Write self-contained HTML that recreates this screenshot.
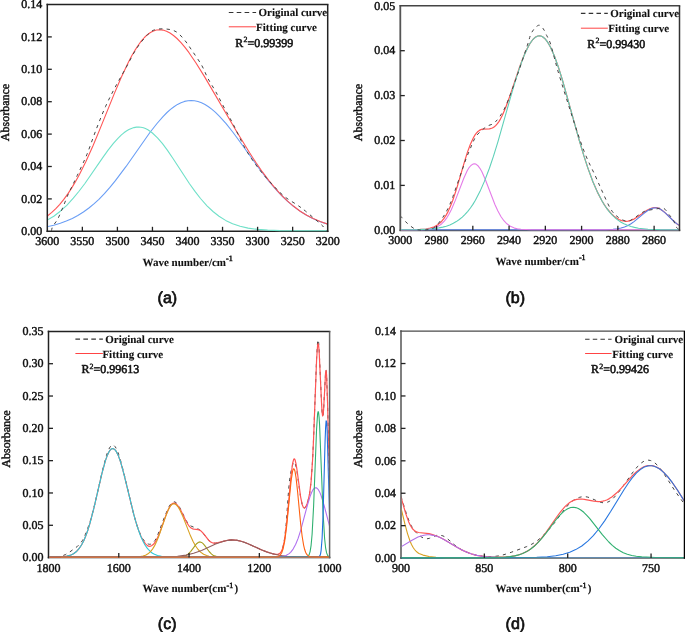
<!DOCTYPE html>
<html><head><meta charset="utf-8"><title>FTIR peak fitting</title><style>
html,body{margin:0;padding:0;background:#fff;}
body{width:685px;height:632px;overflow:hidden;font-family:"Liberation Serif",serif;}
svg{display:block;will-change:transform;text-rendering:geometricPrecision;}
text{fill:#111;}
.s{font-family:"Liberation Serif",serif;}
.sb{font-family:"Liberation Serif",serif;font-weight:bold;}
.a{font-family:"Liberation Sans",sans-serif;}
.ab{font-family:"Liberation Sans",sans-serif;font-weight:bold;}
</style></head><body>
<svg width="685" height="632" viewBox="0 0 685 632">

<rect width="685" height="632" fill="#fff"/>
<line x1="47.3" y1="3.75" x2="47.3" y2="232.05" stroke="#222" stroke-width="1.5"/>
<line x1="46.55" y1="231.3" x2="328.45" y2="231.3" stroke="#222" stroke-width="1.5"/>
<clipPath id="ca"><rect x="48.00" y="5.00" width="279.00" height="227.10"/></clipPath>
<g clip-path="url(#ca)">
<path d="M47.3,226.7 53.8,225.2 60.3,223.3 66.3,221.1 72.3,218.4 77.8,215.5 83.4,212.0 88.9,208.0 93.9,203.9 98.9,199.3 104.4,193.7 109.9,187.4 115.4,180.7 125.9,166.7 149.9,132.5 157.0,123.5 163.0,116.6 167.0,112.5 170.5,109.4 174.0,106.7 177.5,104.4 181.0,102.7 184.5,101.4 188.0,100.7 191.0,100.5 194.5,100.8 198.0,101.5 201.5,102.8 205.0,104.5 208.5,106.7 212.0,109.4 215.5,112.4 219.5,116.3 226.1,123.6 233.1,132.5 240.1,142.0 257.6,166.4 267.6,179.6 272.6,185.6 277.6,191.3 282.6,196.5 287.6,201.3 292.1,205.2 297.2,209.1 301.7,212.2 306.7,215.3 311.7,217.9 316.7,220.2 322.2,222.4 327.7,224.1" fill="none" stroke="#6a9ef5" stroke-width="1.1" stroke-linejoin="round"/>
<path d="M47.3,216.0 51.8,212.4 55.8,208.6 59.8,204.3 63.8,199.4 67.8,193.9 71.3,188.6 75.3,181.9 79.3,174.7 85.9,161.6 92.9,146.0 99.4,130.4 114.4,93.4 121.4,77.0 128.4,62.2 131.9,55.6 134.9,50.4 138.4,45.0 141.4,40.9 144.4,37.5 147.4,34.7 150.4,32.5 153.5,31.0 156.5,30.0 160.0,29.7 163.0,30.1 166.5,31.2 170.0,33.0 173.5,35.5 177.0,38.5 181.0,42.7 185.0,47.4 189.0,52.7 196.0,63.0 204.5,76.6 236.6,131.5 249.6,152.8 256.1,162.8 262.6,172.2 269.1,180.8 275.1,188.1 281.6,195.3 287.6,201.2 293.7,206.3 300.2,211.2 306.7,215.3 313.2,218.6 320.2,221.6 327.7,224.1" fill="none" stroke="#ff5555" stroke-width="1.1" stroke-linejoin="round"/>
<path d="M47.3,220.1 53.8,216.2 60.3,211.2 66.8,205.3 73.3,198.2 78.8,191.5 84.9,183.5 102.4,158.1 107.9,150.4 113.4,143.4 118.4,137.8 121.4,134.9 123.9,132.8 126.4,131.0 128.9,129.6 131.4,128.4 133.9,127.6 136.4,127.1 138.9,127.0 140.9,127.2 143.4,127.8 145.4,128.6 147.9,129.8 152.4,133.0 157.5,137.8 162.5,143.7 167.5,150.4 173.0,158.5 189.5,183.7 195.0,191.4 200.5,198.5 207.0,205.8 213.0,211.5 219.0,216.3 225.6,220.4 232.6,223.7 240.1,226.2 248.1,228.1 257.6,229.4 267.6,230.1 280.1,230.6 327.7,230.8" fill="none" stroke="#6fe0c8" stroke-width="1.1" stroke-linejoin="round"/>
<path d="M51.51,230.80 C51.69,230.10 51.58,228.59 52.63,226.60 C53.68,224.60 56.09,222.10 57.81,218.84 C59.54,215.58 61.27,211.13 63.00,207.04 C64.73,202.94 66.58,197.93 68.19,194.27 C69.80,190.60 71.16,188.21 72.68,185.06 C74.20,181.90 75.67,178.80 77.30,175.36 C78.94,171.91 80.76,168.16 82.49,164.36 C84.22,160.57 85.36,158.46 87.68,152.56 C89.99,146.66 93.40,136.62 96.37,128.97 C99.34,121.31 102.40,113.53 105.48,106.66 C108.57,99.79 111.44,94.27 114.88,87.75 C118.31,81.23 122.47,74.09 126.09,67.54 C129.71,60.99 132.95,54.02 136.61,48.47 C140.26,42.92 144.87,37.39 148.03,34.24 C151.20,31.09 152.50,30.42 155.60,29.55 C158.71,28.69 163.25,28.69 166.68,29.07 C170.12,29.45 173.21,29.96 176.21,31.82 C179.22,33.68 182.03,37.04 184.70,40.22 C187.36,43.40 189.38,46.74 192.20,50.89 C195.01,55.04 198.96,60.51 201.59,65.12 C204.22,69.72 205.59,74.06 207.97,78.53 C210.35,83.00 213.25,87.21 215.89,91.95 C218.53,96.69 221.00,101.73 223.81,106.98 C226.63,112.23 229.15,116.44 232.78,123.47 C236.42,130.50 241.33,141.68 245.61,149.17 C249.90,156.66 254.24,162.72 258.51,168.41 C262.79,174.09 267.01,178.64 271.27,183.28 C275.53,187.91 279.82,192.63 284.10,196.21 C288.37,199.79 293.36,202.30 296.93,204.78 C300.49,207.25 301.56,207.90 305.48,211.08 C309.39,214.26 317.21,220.99 320.41,223.85 C323.61,226.71 323.59,227.06 324.69,228.21 C325.78,229.37 326.61,230.37 327.00,230.80" fill="none" stroke="#444" stroke-width="1.0" stroke-dasharray="3.3,4.2" stroke-linejoin="round"/>
</g>
<line x1="46.55" y1="4.5" x2="328.45" y2="4.5" stroke="#222" stroke-width="1.5"/>
<line x1="327.7" y1="4.5" x2="327.7" y2="232.05" stroke="#222" stroke-width="1.5"/>
<line x1="82.35" y1="231.3" x2="82.35" y2="226.8" stroke="#222" stroke-width="1.3"/>
<line x1="117.40" y1="231.3" x2="117.40" y2="226.8" stroke="#222" stroke-width="1.3"/>
<line x1="152.45" y1="231.3" x2="152.45" y2="226.8" stroke="#222" stroke-width="1.3"/>
<line x1="187.50" y1="231.3" x2="187.50" y2="226.8" stroke="#222" stroke-width="1.3"/>
<line x1="222.55" y1="231.3" x2="222.55" y2="226.8" stroke="#222" stroke-width="1.3"/>
<line x1="257.60" y1="231.3" x2="257.60" y2="226.8" stroke="#222" stroke-width="1.3"/>
<line x1="292.65" y1="231.3" x2="292.65" y2="226.8" stroke="#222" stroke-width="1.3"/>
<line x1="47.3" y1="198.90" x2="51.8" y2="198.90" stroke="#222" stroke-width="1.3"/>
<line x1="47.3" y1="166.50" x2="51.8" y2="166.50" stroke="#222" stroke-width="1.3"/>
<line x1="47.3" y1="134.10" x2="51.8" y2="134.10" stroke="#222" stroke-width="1.3"/>
<line x1="47.3" y1="101.70" x2="51.8" y2="101.70" stroke="#222" stroke-width="1.3"/>
<line x1="47.3" y1="69.30" x2="51.8" y2="69.30" stroke="#222" stroke-width="1.3"/>
<line x1="47.3" y1="36.90" x2="51.8" y2="36.90" stroke="#222" stroke-width="1.3"/>
<text x="47.30" y="245.20" class="s" font-size="12" text-anchor="middle" stroke="#111" stroke-width="0.45" stroke-linejoin="round">3600</text>
<text x="82.35" y="245.20" class="s" font-size="12" text-anchor="middle" stroke="#111" stroke-width="0.45" stroke-linejoin="round">3550</text>
<text x="117.40" y="245.20" class="s" font-size="12" text-anchor="middle" stroke="#111" stroke-width="0.45" stroke-linejoin="round">3500</text>
<text x="152.45" y="245.20" class="s" font-size="12" text-anchor="middle" stroke="#111" stroke-width="0.45" stroke-linejoin="round">3450</text>
<text x="187.50" y="245.20" class="s" font-size="12" text-anchor="middle" stroke="#111" stroke-width="0.45" stroke-linejoin="round">3400</text>
<text x="222.55" y="245.20" class="s" font-size="12" text-anchor="middle" stroke="#111" stroke-width="0.45" stroke-linejoin="round">3350</text>
<text x="257.60" y="245.20" class="s" font-size="12" text-anchor="middle" stroke="#111" stroke-width="0.45" stroke-linejoin="round">3300</text>
<text x="292.65" y="245.20" class="s" font-size="12" text-anchor="middle" stroke="#111" stroke-width="0.45" stroke-linejoin="round">3250</text>
<text x="327.70" y="245.20" class="s" font-size="12" text-anchor="middle" stroke="#111" stroke-width="0.45" stroke-linejoin="round">3200</text>
<text x="42.30" y="235.00" class="s" font-size="12" text-anchor="end" stroke="#111" stroke-width="0.45" stroke-linejoin="round">0.00</text>
<text x="42.30" y="202.60" class="s" font-size="12" text-anchor="end" stroke="#111" stroke-width="0.45" stroke-linejoin="round">0.02</text>
<text x="42.30" y="170.20" class="s" font-size="12" text-anchor="end" stroke="#111" stroke-width="0.45" stroke-linejoin="round">0.04</text>
<text x="42.30" y="137.80" class="s" font-size="12" text-anchor="end" stroke="#111" stroke-width="0.45" stroke-linejoin="round">0.06</text>
<text x="42.30" y="105.40" class="s" font-size="12" text-anchor="end" stroke="#111" stroke-width="0.45" stroke-linejoin="round">0.08</text>
<text x="42.30" y="73.00" class="s" font-size="12" text-anchor="end" stroke="#111" stroke-width="0.45" stroke-linejoin="round">0.10</text>
<text x="42.30" y="40.60" class="s" font-size="12" text-anchor="end" stroke="#111" stroke-width="0.45" stroke-linejoin="round">0.12</text>
<text x="42.30" y="8.20" class="s" font-size="12" text-anchor="end" stroke="#111" stroke-width="0.45" stroke-linejoin="round">0.14</text>
<line x1="228.8" y1="12.5" x2="256.1" y2="12.5" stroke="#333" stroke-width="1.1" stroke-dasharray="4.60,3.30"/>
<text x="258.50" y="16.00" class="sb" font-size="11" stroke="#111" stroke-width="0.10" stroke-linejoin="round">Original curve</text>
<line x1="228.8" y1="26.8" x2="256.1" y2="26.8" stroke="#f44" stroke-width="1.0"/>
<text x="256.10" y="30.50" class="sb" font-size="11" stroke="#111" stroke-width="0.10" stroke-linejoin="round">Fitting curve</text>
<text x="235.30" y="46.60" class="s" font-size="12" stroke="#111" stroke-width="0.55" stroke-linejoin="round">R</text>
<text x="243.50" y="41.80" class="s" font-size="8" stroke="#111" stroke-width="0.40" stroke-linejoin="round">2</text>
<text x="247.50" y="46.60" class="s" font-size="12" stroke="#111" stroke-width="0.55" stroke-linejoin="round">=0.99399</text>
<text x="142.60" y="265.80" class="sb" font-size="11" stroke="#111" stroke-width="0.10" stroke-linejoin="round">Wave number/cm</text>
<text x="226.11" y="260.90" class="s" font-size="8" stroke="#111" stroke-width="0.50" stroke-linejoin="round">-1</text>
<text x="0.00" y="0.00" class="s" font-size="12" text-anchor="middle" stroke="#111" stroke-width="0.45" stroke-linejoin="round" transform="translate(9.2,112.5) rotate(-90)">Absorbance</text>
<text x="167.40" y="302.60" class="a" font-size="16" text-anchor="middle" stroke="#111" stroke-width="0.70" stroke-linejoin="round">(a)</text>
<line x1="400.3" y1="5.05" x2="400.3" y2="231.05" stroke="#555" stroke-width="1.8"/>
<line x1="399.55" y1="230.3" x2="680.25" y2="230.3" stroke="#555" stroke-width="1.8"/>
<clipPath id="cb"><rect x="401.00" y="6.30" width="277.80" height="224.80"/></clipPath>
<g clip-path="url(#cb)">
<path d="M400.3,229.8 420.3,229.4 425.8,229.0 430.3,228.1 434.3,226.8 437.8,224.8 440.8,222.3 443.8,218.7 446.3,214.9 448.3,211.1 450.3,206.6 452.8,200.2 456.8,188.1 464.3,162.3 467.3,152.6 470.4,144.2 473.4,137.7 474.9,135.1 476.4,133.1 477.9,131.5 479.4,130.4 480.9,129.6 482.4,129.2 489.4,128.8 492.4,128.0 494.4,126.7 495.9,125.4 497.4,123.7 498.9,121.6 500.4,119.1 502.4,115.2 505.9,107.0 509.9,95.9 519.9,66.2 523.4,57.0 526.4,50.1 529.9,43.6 532.9,39.5 534.9,37.6 536.4,36.6 537.9,36.0 539.4,35.8 540.9,36.0 542.9,37.0 544.9,38.7 546.9,41.1 548.4,43.4 550.4,47.0 554.4,56.0 558.4,67.2 562.4,80.0 579.4,140.8 583.9,155.9 587.9,168.1 592.9,181.7 597.4,192.1 601.9,200.8 604.4,204.9 606.9,208.5 611.5,213.9 614.0,216.2 616.5,218.1 619.0,219.5 621.5,220.6 623.5,221.0 626.0,221.3 628.0,221.1 630.0,220.7 634.0,219.1 638.0,216.6 646.0,210.9 650.0,208.7 652.0,208.0 654.0,207.6 656.0,207.6 657.5,207.9 660.0,208.9 663.0,210.9 665.5,213.1 674.0,221.4 677.0,223.9 679.5,225.5" fill="none" stroke="#ff5555" stroke-width="1.2" stroke-linejoin="round"/>
<path d="M400.3,229.8 594.4,229.8 605.9,229.7 613.0,229.3 617.5,228.8 621.0,228.0 624.5,226.9 628.0,225.4 631.0,223.7 634.0,221.6 644.0,213.3 647.5,210.7 649.5,209.5 651.5,208.6 653.5,208.0 655.5,207.8 657.0,208.0 658.5,208.4 660.0,209.0 662.0,210.3 665.5,213.2 674.0,221.5 677.0,223.9 679.5,225.5" fill="none" stroke="#5a80e8" stroke-width="1.1" stroke-linejoin="round"/>
<path d="M400.3,229.8 420.8,229.7 425.8,229.5 429.8,229.0 433.3,228.3 436.3,227.3 439.3,225.6 441.8,223.7 444.3,221.1 446.8,217.8 448.8,214.5 451.3,209.7 455.3,200.4 463.8,178.2 467.3,170.5 469.3,167.3 470.9,165.5 472.9,164.1 474.4,163.8 475.9,164.1 477.9,165.7 479.9,168.3 481.9,171.8 485.4,179.8 494.9,204.5 497.9,211.1 500.9,216.5 503.9,220.7 506.9,223.8 510.4,226.3 514.4,228.1 517.4,228.8 520.9,229.3 531.4,229.8 679.5,229.8" fill="none" stroke="#e47ce8" stroke-width="1.1" stroke-linejoin="round"/>
<path d="M400.3,229.8 418.3,229.6 429.8,229.0 438.8,227.9 442.8,227.1 446.3,226.2 449.8,224.9 453.3,223.3 456.3,221.6 459.3,219.5 462.3,217.1 464.8,214.6 467.8,211.3 470.4,208.0 472.9,204.4 475.4,200.2 479.9,191.6 484.4,181.4 489.4,168.2 493.4,156.4 497.9,141.8 511.4,94.4 515.9,79.2 519.9,66.8 523.9,56.0 527.9,47.2 529.9,43.6 531.9,40.7 533.9,38.5 535.9,36.9 537.9,36.0 539.4,35.8 540.9,36.0 542.9,37.0 544.9,38.7 546.9,41.1 548.4,43.4 550.4,47.0 554.4,56.0 558.4,67.2 562.4,80.0 579.4,140.8 583.9,155.9 587.9,168.1 592.9,181.7 597.4,192.1 601.9,200.8 604.4,205.0 606.9,208.7 609.4,211.9 612.5,215.3 615.0,217.7 618.0,220.1 621.0,222.2 624.0,223.8 627.5,225.3 631.0,226.5 634.5,227.4 638.5,228.2 648.0,229.2 660.0,229.6 679.5,229.8" fill="none" stroke="#5fd0b8" stroke-width="1.1" stroke-linejoin="round"/>
<path d="M400.30,215.91 C400.51,216.14 400.36,215.99 401.57,217.26 C402.78,218.53 405.16,221.51 407.55,223.53 C409.94,225.54 412.87,228.31 415.89,229.35 C418.91,230.40 422.54,230.17 425.68,229.80 C428.82,229.43 431.63,229.58 434.75,227.11 C437.86,224.65 441.67,219.20 444.36,215.02 C447.04,210.83 449.28,205.61 450.88,202.02 C452.48,198.44 452.12,198.74 453.96,193.51 C455.81,188.29 459.89,176.56 461.94,170.66 C464.00,164.77 464.93,161.70 466.29,158.12 C467.65,154.54 469.04,151.70 470.10,149.16 C471.16,146.62 471.58,145.13 472.64,142.89 C473.70,140.65 474.75,137.96 476.45,135.72 C478.14,133.48 480.89,131.09 482.79,129.45 C484.69,127.81 485.75,127.13 487.87,125.86 C489.98,124.59 492.55,125.04 495.48,121.83 C498.41,118.62 501.80,114.44 505.45,106.60 C509.11,98.76 513.76,85.02 517.42,74.79 C521.08,64.56 525.03,52.24 527.39,45.22 C529.75,38.21 529.72,36.00 531.56,32.68 C533.40,29.36 536.52,25.96 538.45,25.29 C540.38,24.62 541.80,26.97 543.16,28.65 C544.52,30.33 545.43,32.98 546.61,35.37 C547.79,37.76 548.96,39.33 550.23,42.98 C551.50,46.64 552.68,51.79 554.22,57.32 C555.76,62.85 556.13,65.16 559.48,76.14 C562.83,87.11 570.09,110.26 574.35,123.18 C578.61,136.09 581.54,144.83 585.04,153.64 C588.55,162.45 592.39,169.47 595.38,176.04 C598.37,182.61 600.42,187.54 602.99,193.06 C605.56,198.59 608.25,205.16 610.79,209.19 C613.33,213.22 615.44,215.24 618.22,217.26 C621.00,219.27 624.63,221.29 627.47,221.29 C630.31,221.29 632.45,218.90 635.26,217.26 C638.07,215.61 641.03,212.78 644.33,211.43 C647.62,210.09 651.82,209.71 655.02,209.19 C658.23,208.67 661.22,207.40 663.55,208.30 C665.87,209.19 667.32,212.55 668.98,214.57 C670.65,216.58 672.37,218.38 673.52,220.39 C674.67,222.41 674.88,225.10 675.87,226.66 C676.87,228.23 678.90,229.28 679.50,229.80" fill="none" stroke="#444" stroke-width="1.0" stroke-dasharray="3.3,4.2" stroke-linejoin="round"/>
</g>
<line x1="399.55" y1="5.8" x2="680.25" y2="5.8" stroke="#444" stroke-width="1.5"/>
<line x1="679.5" y1="5.8" x2="679.5" y2="231.05" stroke="#333" stroke-width="1.5"/>
<line x1="436.56" y1="230.3" x2="436.56" y2="225.8" stroke="#222" stroke-width="1.3"/>
<line x1="472.82" y1="230.3" x2="472.82" y2="225.8" stroke="#222" stroke-width="1.3"/>
<line x1="509.08" y1="230.3" x2="509.08" y2="225.8" stroke="#222" stroke-width="1.3"/>
<line x1="545.34" y1="230.3" x2="545.34" y2="225.8" stroke="#222" stroke-width="1.3"/>
<line x1="581.60" y1="230.3" x2="581.60" y2="225.8" stroke="#222" stroke-width="1.3"/>
<line x1="617.86" y1="230.3" x2="617.86" y2="225.8" stroke="#222" stroke-width="1.3"/>
<line x1="654.12" y1="230.3" x2="654.12" y2="225.8" stroke="#222" stroke-width="1.3"/>
<line x1="400.3" y1="185.40" x2="404.8" y2="185.40" stroke="#222" stroke-width="1.3"/>
<line x1="400.3" y1="140.50" x2="404.8" y2="140.50" stroke="#222" stroke-width="1.3"/>
<line x1="400.3" y1="95.60" x2="404.8" y2="95.60" stroke="#222" stroke-width="1.3"/>
<line x1="400.3" y1="50.70" x2="404.8" y2="50.70" stroke="#222" stroke-width="1.3"/>
<text x="400.30" y="244.20" class="s" font-size="12" text-anchor="middle" stroke="#111" stroke-width="0.45" stroke-linejoin="round">3000</text>
<text x="436.56" y="244.20" class="s" font-size="12" text-anchor="middle" stroke="#111" stroke-width="0.45" stroke-linejoin="round">2980</text>
<text x="472.82" y="244.20" class="s" font-size="12" text-anchor="middle" stroke="#111" stroke-width="0.45" stroke-linejoin="round">2960</text>
<text x="509.08" y="244.20" class="s" font-size="12" text-anchor="middle" stroke="#111" stroke-width="0.45" stroke-linejoin="round">2940</text>
<text x="545.34" y="244.20" class="s" font-size="12" text-anchor="middle" stroke="#111" stroke-width="0.45" stroke-linejoin="round">2920</text>
<text x="581.60" y="244.20" class="s" font-size="12" text-anchor="middle" stroke="#111" stroke-width="0.45" stroke-linejoin="round">2900</text>
<text x="617.86" y="244.20" class="s" font-size="12" text-anchor="middle" stroke="#111" stroke-width="0.45" stroke-linejoin="round">2880</text>
<text x="654.12" y="244.20" class="s" font-size="12" text-anchor="middle" stroke="#111" stroke-width="0.45" stroke-linejoin="round">2860</text>
<text x="395.30" y="234.00" class="s" font-size="12" text-anchor="end" stroke="#111" stroke-width="0.45" stroke-linejoin="round">0.00</text>
<text x="395.30" y="189.10" class="s" font-size="12" text-anchor="end" stroke="#111" stroke-width="0.45" stroke-linejoin="round">0.01</text>
<text x="395.30" y="144.20" class="s" font-size="12" text-anchor="end" stroke="#111" stroke-width="0.45" stroke-linejoin="round">0.02</text>
<text x="395.30" y="99.30" class="s" font-size="12" text-anchor="end" stroke="#111" stroke-width="0.45" stroke-linejoin="round">0.03</text>
<text x="395.30" y="54.40" class="s" font-size="12" text-anchor="end" stroke="#111" stroke-width="0.45" stroke-linejoin="round">0.04</text>
<text x="395.30" y="9.50" class="s" font-size="12" text-anchor="end" stroke="#111" stroke-width="0.45" stroke-linejoin="round">0.05</text>
<line x1="580.9" y1="13.4" x2="607.8" y2="13.4" stroke="#333" stroke-width="1.1" stroke-dasharray="4.53,3.25"/>
<text x="610.30" y="17.30" class="sb" font-size="11" stroke="#111" stroke-width="0.10" stroke-linejoin="round">Original curve</text>
<line x1="580.9" y1="28.2" x2="607.8" y2="28.2" stroke="#f44" stroke-width="1.0"/>
<text x="608.30" y="31.90" class="sb" font-size="11" stroke="#111" stroke-width="0.10" stroke-linejoin="round">Fitting curve</text>
<text x="587.30" y="47.50" class="s" font-size="12" stroke="#111" stroke-width="0.55" stroke-linejoin="round">R</text>
<text x="595.50" y="42.70" class="s" font-size="8" stroke="#111" stroke-width="0.40" stroke-linejoin="round">2</text>
<text x="599.50" y="47.50" class="s" font-size="12" stroke="#111" stroke-width="0.55" stroke-linejoin="round">=0.99430</text>
<text x="495.40" y="264.90" class="sb" font-size="11" stroke="#111" stroke-width="0.10" stroke-linejoin="round">Wave number/cm</text>
<text x="578.91" y="260.00" class="s" font-size="8" stroke="#111" stroke-width="0.50" stroke-linejoin="round">-1</text>
<text x="0.00" y="0.00" class="s" font-size="12" text-anchor="middle" stroke="#111" stroke-width="0.45" stroke-linejoin="round" transform="translate(361.5,112.5) rotate(-90)">Absorbance</text>
<text x="515.20" y="302.80" class="a" font-size="16" text-anchor="middle" stroke="#111" stroke-width="0.70" stroke-linejoin="round">(b)</text>
<line x1="48.5" y1="330.65" x2="48.5" y2="558.35" stroke="#222" stroke-width="1.5"/>
<line x1="47.75" y1="557.6" x2="330.35" y2="557.6" stroke="#222" stroke-width="1.5"/>
<clipPath id="cc"><rect x="49.20" y="331.90" width="279.70" height="226.50"/></clipPath>
<g clip-path="url(#cc)">
<path d="M48.5,557.1 55.0,557.0 59.0,556.6 62.5,555.8 65.5,554.5 70.0,551.8 77.5,546.3 80.5,543.3 82.5,540.4 84.5,536.5 87.0,530.3 89.5,523.4 91.5,517.0 95.0,503.3 103.0,468.1 106.5,455.3 108.0,451.1 109.5,447.9 111.0,445.8 112.0,445.2 112.5,445.0 113.0,445.1 114.0,445.5 115.0,446.5 116.0,448.0 118.0,452.4 120.0,458.4 123.5,471.5 133.0,511.4 135.5,520.6 138.0,528.4 140.5,534.6 142.5,538.4 144.5,541.2 145.5,542.3 147.0,543.4 148.5,544.1 149.5,544.3 150.5,544.2 151.5,543.9 152.5,543.3 153.5,542.4 155.0,540.4 156.5,537.7 158.0,534.2 165.0,515.7 168.5,507.7 170.0,505.0 171.5,503.1 173.0,502.0 174.0,501.8 175.0,502.0 176.0,502.6 177.0,503.5 178.5,505.4 180.5,508.9 186.0,520.3 188.5,524.1 189.6,525.1 191.1,526.1 197.6,528.7 199.1,529.5 200.6,530.6 203.1,533.2 208.1,539.6 210.1,541.5 211.6,542.5 213.6,543.1 215.6,543.2 218.1,542.7 225.1,540.8 228.6,540.2 232.6,539.9 237.1,540.3 241.1,541.2 245.6,542.7 262.1,550.1 269.6,552.9 273.1,553.8 276.1,554.4 278.1,554.3 279.6,553.6 281.1,551.9 282.6,548.4 283.6,544.4 284.6,538.6 286.1,524.6 288.6,490.1 289.6,479.9 291.1,470.8 292.1,466.6 293.1,463.3 293.6,462.3 294.1,462.0 294.6,462.2 295.1,463.2 296.1,466.9 297.1,472.6 300.6,497.1 302.1,504.2 303.1,506.9 303.6,507.7 304.1,508.0 304.6,508.0 305.1,507.6 306.1,506.1 307.1,503.7 308.1,500.5 309.6,493.6 311.1,481.6 312.6,459.8 313.6,438.0 316.6,357.8 317.6,341.8 318.1,339.7 318.6,342.1 319.1,348.5 321.6,404.4 322.1,412.1 322.6,415.9 323.1,415.1 323.6,409.7 325.6,372.2 326.1,370.3 326.6,375.2 327.6,403.9 329.6,485.9" fill="none" stroke="#444" stroke-width="1.0" stroke-dasharray="3.3,4.2" stroke-linejoin="round"/>
<path d="M48.5,557.1 57.5,557.0 63.0,556.7 67.0,556.1 70.5,555.2 73.5,553.7 76.5,551.5 79.0,548.7 81.5,545.0 84.0,540.2 86.0,535.3 88.0,529.7 90.0,523.1 94.0,507.7 102.0,473.1 105.5,460.4 107.5,454.9 109.0,451.8 110.0,450.3 111.0,449.2 112.5,448.6 113.5,448.7 114.5,449.4 115.5,450.4 116.5,451.9 118.5,456.1 120.5,461.7 124.0,474.3 133.5,513.4 136.0,522.3 138.5,530.1 141.0,536.4 143.0,540.3 145.5,543.9 147.5,545.6 148.5,546.1 149.5,546.3 150.5,546.2 151.5,545.8 153.5,544.3 155.5,541.6 157.5,537.8 159.5,533.2 166.0,515.1 168.5,509.1 170.0,506.3 171.5,504.3 173.0,503.3 174.0,503.1 175.0,503.3 176.5,504.2 177.5,505.3 179.0,507.3 181.0,510.8 186.5,522.0 188.5,525.3 190.1,527.1 191.1,528.0 192.6,528.8 194.1,529.2 198.1,529.6 199.6,530.1 200.6,530.7 203.1,533.2 208.6,540.2 210.1,541.5 211.6,542.5 213.6,543.1 215.6,543.2 218.1,542.7 225.1,540.8 228.6,540.2 232.6,539.9 237.1,540.3 241.1,541.2 245.6,542.7 262.1,550.1 269.6,552.9 273.1,553.8 276.1,554.4 278.1,554.3 279.6,553.6 281.1,551.9 282.6,548.4 284.1,542.2 285.1,536.1 287.1,518.9 291.1,475.0 292.6,463.5 293.6,459.6 294.1,458.9 294.6,459.1 295.1,460.0 296.1,464.1 297.1,470.5 300.6,496.8 302.1,504.2 303.1,506.9 303.6,507.6 304.1,508.0 304.6,508.0 305.1,507.6 306.1,506.1 307.1,503.7 308.1,500.5 309.6,493.6 311.1,481.6 312.6,459.8 313.6,438.0 316.6,359.4 317.6,345.4 318.1,343.6 318.6,345.4 319.1,350.8 321.6,404.4 322.1,412.1 322.6,415.9 323.1,415.1 323.6,409.7 325.6,372.2 326.1,370.3 326.6,375.2 327.6,403.9 329.6,485.9" fill="none" stroke="#ff5555" stroke-width="1.2" stroke-linejoin="round"/>
<path d="M48.5,557.1 57.5,557.0 63.0,556.7 67.0,556.1 70.5,555.2 73.5,553.7 76.5,551.5 79.0,548.7 81.5,545.0 84.0,540.2 86.0,535.3 88.0,529.7 90.0,523.1 94.0,507.7 102.0,473.1 105.5,460.4 107.5,454.9 109.0,451.8 110.0,450.3 111.0,449.2 112.5,448.6 113.5,448.7 114.5,449.4 115.5,450.4 116.5,451.9 118.5,456.1 120.5,461.7 124.0,474.3 134.0,515.3 137.5,527.3 140.5,535.7 143.5,542.3 145.0,545.0 147.0,547.9 148.5,549.7 150.5,551.7 152.5,553.2 154.5,554.3 157.5,555.5 161.5,556.4 166.0,556.8 172.5,557.0 329.6,557.1" fill="none" stroke="#2ec8d8" stroke-width="1.1" stroke-linejoin="round"/>
<path d="M48.5,557.1 133.5,557.0 140.5,556.6 143.0,556.1 145.5,555.2 148.0,553.8 150.5,551.6 152.5,549.1 154.5,545.9 156.5,541.8 158.5,537.0 165.5,516.9 168.0,510.6 169.5,507.6 171.0,505.3 172.5,504.0 173.5,503.7 175.0,504.0 176.5,505.1 178.0,506.8 180.0,510.2 183.0,516.9 190.6,536.1 193.1,541.5 195.6,546.0 198.1,549.5 200.6,552.1 203.6,554.3 206.6,555.6 209.1,556.2 212.1,556.7 220.6,557.1 329.6,557.1" fill="none" stroke="#d8a020" stroke-width="1.1" stroke-linejoin="round"/>
<path d="M48.5,557.1 173.0,557.1 181.0,556.9 183.0,556.6 185.0,556.0 186.5,555.2 188.0,554.2 190.6,551.6 196.6,543.7 198.6,542.2 200.1,541.9 201.6,542.4 203.1,543.6 204.6,545.4 209.1,551.5 211.6,554.1 213.1,555.2 214.6,555.9 216.6,556.5 218.6,556.9 226.6,557.1 329.6,557.1" fill="none" stroke="#a8a020" stroke-width="1.1" stroke-linejoin="round"/>
<path d="M48.5,557.1 155.0,557.1 168.0,556.8 177.5,556.3 186.0,555.1 193.6,553.3 201.6,550.4 215.6,544.1 220.6,542.2 226.6,540.5 229.6,540.1 232.1,539.9 237.1,540.3 242.6,541.7 248.1,543.8 260.1,549.2 266.1,551.7 272.6,553.7 279.1,555.2 286.6,556.2 296.1,556.8 307.6,557.0 329.6,557.1" fill="none" stroke="#906060" stroke-width="1.1" stroke-linejoin="round"/>
<path d="M48.5,557.1 270.1,557.1 279.1,556.9 284.1,556.1 286.1,555.4 287.6,554.6 289.1,553.6 290.6,552.3 293.1,549.1 295.6,544.5 298.1,538.4 300.6,530.6 307.6,504.5 310.1,496.3 311.6,492.5 313.1,489.6 314.6,488.0 315.6,487.7 316.6,487.9 318.1,489.3 319.6,491.9 321.1,495.6 324.1,505.4 329.6,526.3" fill="none" stroke="#b070f0" stroke-width="1.1" stroke-linejoin="round"/>
<path d="M48.5,557.1 303.1,557.1 306.1,557.0 307.6,556.6 308.6,555.6 309.1,554.8 310.1,551.6 311.1,545.3 312.1,534.2 313.6,506.2 316.6,428.6 317.6,413.9 318.1,411.5 318.6,412.7 319.1,417.4 319.6,425.3 323.1,513.6 324.6,538.5 325.6,547.8 326.6,552.9 327.6,555.4 328.6,556.5 329.6,556.9" fill="none" stroke="#30b070" stroke-width="1.1" stroke-linejoin="round"/>
<path d="M48.5,557.1 315.6,557.1 318.1,557.0 319.1,556.7 319.6,556.2 320.1,555.3 320.6,553.6 321.1,550.6 322.1,538.3 323.1,513.8 325.1,440.6 325.6,427.5 326.1,420.8 326.6,421.6 327.1,429.8 329.6,517.0" fill="none" stroke="#2070e0" stroke-width="1.1" stroke-linejoin="round"/>
<path d="M48.5,557.1 271.1,557.1 275.6,557.0 278.1,556.5 279.1,556.1 280.1,555.2 281.6,553.0 283.1,548.7 284.6,541.6 286.6,526.6 291.1,480.9 292.6,471.2 293.1,469.6 293.6,468.8 294.1,469.0 294.6,470.0 295.1,471.9 296.1,478.1 297.6,491.8 300.6,523.4 302.1,536.0 303.6,545.1 304.6,549.3 305.6,552.2 306.6,554.2 307.6,555.4 309.1,556.4 310.6,556.8 314.1,557.1 329.6,557.1" fill="none" stroke="#ff6010" stroke-width="1.1" stroke-linejoin="round"/>
</g>
<line x1="60.8" y1="557.2" x2="328.90000000000003" y2="557.2" stroke="#d07a48" stroke-width="1.1"/>
<line x1="47.75" y1="331.4" x2="330.35" y2="331.4" stroke="#222" stroke-width="1.5"/>
<line x1="329.6" y1="331.4" x2="329.6" y2="558.35" stroke="#666" stroke-width="1.5"/>
<line x1="118.78" y1="557.6" x2="118.78" y2="553.1" stroke="#222" stroke-width="1.3"/>
<line x1="189.05" y1="557.6" x2="189.05" y2="553.1" stroke="#222" stroke-width="1.3"/>
<line x1="259.33" y1="557.6" x2="259.33" y2="553.1" stroke="#222" stroke-width="1.3"/>
<line x1="48.5" y1="525.29" x2="53.0" y2="525.29" stroke="#222" stroke-width="1.3"/>
<line x1="48.5" y1="492.97" x2="53.0" y2="492.97" stroke="#222" stroke-width="1.3"/>
<line x1="48.5" y1="460.66" x2="53.0" y2="460.66" stroke="#222" stroke-width="1.3"/>
<line x1="48.5" y1="428.34" x2="53.0" y2="428.34" stroke="#222" stroke-width="1.3"/>
<line x1="48.5" y1="396.03" x2="53.0" y2="396.03" stroke="#222" stroke-width="1.3"/>
<line x1="48.5" y1="363.71" x2="53.0" y2="363.71" stroke="#222" stroke-width="1.3"/>
<text x="48.50" y="571.50" class="s" font-size="12" text-anchor="middle" stroke="#111" stroke-width="0.45" stroke-linejoin="round">1800</text>
<text x="118.78" y="571.50" class="s" font-size="12" text-anchor="middle" stroke="#111" stroke-width="0.45" stroke-linejoin="round">1600</text>
<text x="189.05" y="571.50" class="s" font-size="12" text-anchor="middle" stroke="#111" stroke-width="0.45" stroke-linejoin="round">1400</text>
<text x="259.33" y="571.50" class="s" font-size="12" text-anchor="middle" stroke="#111" stroke-width="0.45" stroke-linejoin="round">1200</text>
<text x="329.60" y="571.50" class="s" font-size="12" text-anchor="middle" stroke="#111" stroke-width="0.45" stroke-linejoin="round">1000</text>
<text x="43.50" y="561.30" class="s" font-size="12" text-anchor="end" stroke="#111" stroke-width="0.45" stroke-linejoin="round">0.00</text>
<text x="43.50" y="528.99" class="s" font-size="12" text-anchor="end" stroke="#111" stroke-width="0.45" stroke-linejoin="round">0.05</text>
<text x="43.50" y="496.67" class="s" font-size="12" text-anchor="end" stroke="#111" stroke-width="0.45" stroke-linejoin="round">0.10</text>
<text x="43.50" y="464.36" class="s" font-size="12" text-anchor="end" stroke="#111" stroke-width="0.45" stroke-linejoin="round">0.15</text>
<text x="43.50" y="432.04" class="s" font-size="12" text-anchor="end" stroke="#111" stroke-width="0.45" stroke-linejoin="round">0.20</text>
<text x="43.50" y="399.73" class="s" font-size="12" text-anchor="end" stroke="#111" stroke-width="0.45" stroke-linejoin="round">0.25</text>
<text x="43.50" y="367.41" class="s" font-size="12" text-anchor="end" stroke="#111" stroke-width="0.45" stroke-linejoin="round">0.30</text>
<text x="43.50" y="335.10" class="s" font-size="12" text-anchor="end" stroke="#111" stroke-width="0.45" stroke-linejoin="round">0.35</text>
<line x1="75.4" y1="339.1" x2="102.9" y2="339.1" stroke="#333" stroke-width="1.1" stroke-dasharray="4.63,3.32"/>
<text x="105.20" y="343.10" class="sb" font-size="11" stroke="#111" stroke-width="0.10" stroke-linejoin="round">Original curve</text>
<line x1="75.4" y1="353.5" x2="102.9" y2="353.5" stroke="#f44" stroke-width="1.0"/>
<text x="102.40" y="357.70" class="sb" font-size="11" stroke="#111" stroke-width="0.10" stroke-linejoin="round">Fitting curve</text>
<text x="81.40" y="373.40" class="s" font-size="12" stroke="#111" stroke-width="0.55" stroke-linejoin="round">R</text>
<text x="89.60" y="368.60" class="s" font-size="8" stroke="#111" stroke-width="0.40" stroke-linejoin="round">2</text>
<text x="93.60" y="373.40" class="s" font-size="12" stroke="#111" stroke-width="0.55" stroke-linejoin="round">=0.99613</text>
<text x="142.40" y="592.40" class="sb" font-size="11" stroke="#111" stroke-width="0.10" stroke-linejoin="round">Wave number(cm</text>
<text x="226.52" y="587.50" class="s" font-size="8" stroke="#111" stroke-width="0.50" stroke-linejoin="round">-1</text>
<text x="234.49" y="592.40" class="sb" font-size="11" stroke="#111" stroke-width="0.10" stroke-linejoin="round">)</text>
<text x="0.00" y="0.00" class="s" font-size="12" text-anchor="middle" stroke="#111" stroke-width="0.45" stroke-linejoin="round" transform="translate(9.9,439) rotate(-90)">Absorbance</text>
<text x="167.20" y="628.50" class="a" font-size="16" text-anchor="middle" stroke="#111" stroke-width="0.70" stroke-linejoin="round">(c)</text>
<line x1="401" y1="330.35" x2="401" y2="558.85" stroke="#555" stroke-width="1.5"/>
<line x1="400.25" y1="558.1" x2="685.15" y2="558.1" stroke="#2a5050" stroke-width="1.5"/>
<clipPath id="cd"><rect x="401.70" y="331.60" width="282.00" height="227.30"/></clipPath>
<g clip-path="url(#cd)">
<path d="M401.0,496.3 406.5,514.1 409.0,520.8 411.0,525.2 413.0,528.7 415.0,531.4 417.5,533.9 421.0,536.7 424.0,538.4 425.5,538.8 427.0,538.8 429.5,538.3 434.0,536.3 436.6,535.4 439.6,535.2 442.1,535.6 444.1,536.4 446.6,538.0 454.6,544.9 458.1,547.6 461.6,549.7 465.1,551.5 470.6,553.6 476.1,555.1 482.1,556.2 488.1,556.6 492.6,556.6 497.1,556.1 501.1,555.4 505.6,554.2 511.2,552.3 526.7,546.6 531.2,544.5 534.7,542.5 537.7,540.3 541.2,537.4 545.2,533.5 549.2,529.2 554.7,522.6 564.7,509.1 568.7,504.4 572.7,500.8 576.7,498.4 579.3,497.4 581.3,496.9 583.3,496.7 585.3,496.7 587.3,497.0 589.8,497.7 598.3,501.5 601.8,502.6 603.8,502.8 605.8,502.7 607.8,502.1 609.8,501.1 613.3,498.3 617.3,493.9 621.3,488.6 632.3,473.0 637.3,466.8 639.8,464.2 641.8,462.6 643.8,461.3 645.8,460.5 647.3,460.2 648.8,460.2 650.4,460.5 651.9,461.0 654.9,462.9 658.4,466.2 662.9,472.1 675.4,491.6 684.4,504.0" fill="none" stroke="#444" stroke-width="1.0" stroke-dasharray="3.3,4.2" stroke-linejoin="round"/>
<path d="M401.0,497.1 405.5,512.9 408.5,521.4 410.0,524.7 411.5,527.3 413.0,529.3 415.0,531.1 416.5,531.9 418.5,532.5 429.0,533.7 432.5,534.6 436.6,536.0 440.1,537.5 443.6,539.3 456.1,546.8 461.1,549.6 466.1,551.9 471.1,553.8 476.6,555.3 482.1,556.2 488.6,556.9 495.6,557.2 506.1,556.9 510.7,556.5 514.7,555.8 518.2,555.0 521.7,553.8 524.7,552.5 527.7,550.9 530.7,548.9 533.7,546.5 536.7,543.6 539.7,540.4 545.7,532.8 556.7,517.0 560.7,511.6 565.2,506.4 567.7,504.1 569.7,502.5 571.7,501.3 574.2,500.1 576.7,499.4 579.3,499.1 581.8,499.0 584.3,499.3 593.8,501.1 598.3,501.6 600.8,501.5 602.8,501.2 605.3,500.5 607.3,499.7 609.3,498.6 611.8,497.0 616.8,492.8 621.3,488.1 631.8,476.3 636.8,471.5 641.3,468.2 643.8,466.8 645.8,466.1 647.8,465.6 649.9,465.5 651.9,465.6 654.4,466.2 656.4,467.0 658.4,468.1 660.4,469.5 662.9,471.6 667.4,476.3 671.9,482.0 677.4,490.0 684.4,501.1" fill="none" stroke="#ff5555" stroke-width="1.2" stroke-linejoin="round"/>
<path d="M401.0,507.9 405.0,524.4 407.5,533.6 410.0,541.0 411.5,544.5 413.0,547.3 414.5,549.5 416.0,551.2 417.5,552.5 419.0,553.5 423.0,555.1 429.0,556.5 436.0,557.3 446.1,557.6 684.4,557.6" fill="none" stroke="#d8a020" stroke-width="1.1" stroke-linejoin="round"/>
<path d="M401.0,546.8 412.0,540.2 418.0,537.1 421.0,536.0 424.0,535.2 427.0,534.8 429.5,534.8 432.0,535.1 435.0,535.7 437.6,536.6 440.6,537.8 445.6,540.5 459.6,548.8 464.1,551.1 468.1,552.7 472.6,554.3 477.1,555.4 482.1,556.3 487.1,556.8 497.1,557.4 512.2,557.6 684.4,557.6" fill="none" stroke="#b070e8" stroke-width="1.1" stroke-linejoin="round"/>
<path d="M401.0,557.6 511.7,557.6 536.7,557.3 547.2,556.7 555.7,555.8 563.2,554.3 569.7,552.3 575.7,549.6 581.8,546.0 587.8,541.1 593.3,535.6 598.8,529.0 604.8,520.6 610.8,511.3 624.3,489.3 628.3,483.2 631.8,478.4 636.3,473.2 640.3,469.6 642.3,468.2 644.3,467.1 647.8,465.9 649.9,465.7 651.9,465.8 653.9,466.2 655.9,466.9 657.9,467.9 659.9,469.2 663.9,472.6 667.9,476.9 672.4,482.7 677.4,490.0 684.4,501.1" fill="none" stroke="#2a78e0" stroke-width="1.1" stroke-linejoin="round"/>
<path d="M401.0,557.6 479.6,557.6 496.6,557.4 503.6,557.2 509.7,556.6 514.7,555.9 518.7,554.9 522.7,553.5 526.7,551.6 530.7,549.0 534.2,546.3 538.2,542.4 542.2,537.9 546.2,532.9 556.2,519.5 559.2,515.9 561.7,513.3 564.7,510.6 567.7,508.7 570.7,507.5 573.2,507.3 575.7,507.6 578.3,508.5 580.8,510.0 583.8,512.3 586.8,515.3 589.8,518.7 602.3,534.7 608.8,542.0 612.3,545.4 615.8,548.2 619.3,550.5 623.3,552.7 627.3,554.2 631.8,555.5 636.3,556.3 641.8,556.9 655.4,557.5 684.4,557.6" fill="none" stroke="#30b070" stroke-width="1.1" stroke-linejoin="round"/>
</g>
<line x1="401.7" y1="557.7" x2="683.9" y2="557.7" stroke="#3a9a90" stroke-width="1.0" opacity="0.8"/>
<line x1="400.25" y1="331.1" x2="685.15" y2="331.1" stroke="#4a4a4a" stroke-width="1.3"/>
<line x1="684.4" y1="331.1" x2="684.4" y2="558.85" stroke="#000" stroke-width="1.3"/>
<line x1="484.35" y1="558.1" x2="484.35" y2="553.6" stroke="#222" stroke-width="1.3"/>
<line x1="567.71" y1="558.1" x2="567.71" y2="553.6" stroke="#222" stroke-width="1.3"/>
<line x1="651.06" y1="558.1" x2="651.06" y2="553.6" stroke="#222" stroke-width="1.3"/>
<line x1="401" y1="525.67" x2="405.5" y2="525.67" stroke="#222" stroke-width="1.3"/>
<line x1="401" y1="493.24" x2="405.5" y2="493.24" stroke="#222" stroke-width="1.3"/>
<line x1="401" y1="460.81" x2="405.5" y2="460.81" stroke="#222" stroke-width="1.3"/>
<line x1="401" y1="428.39" x2="405.5" y2="428.39" stroke="#222" stroke-width="1.3"/>
<line x1="401" y1="395.96" x2="405.5" y2="395.96" stroke="#222" stroke-width="1.3"/>
<line x1="401" y1="363.53" x2="405.5" y2="363.53" stroke="#222" stroke-width="1.3"/>
<text x="401.00" y="572.00" class="s" font-size="12" text-anchor="middle" stroke="#111" stroke-width="0.45" stroke-linejoin="round">900</text>
<text x="484.35" y="572.00" class="s" font-size="12" text-anchor="middle" stroke="#111" stroke-width="0.45" stroke-linejoin="round">850</text>
<text x="567.71" y="572.00" class="s" font-size="12" text-anchor="middle" stroke="#111" stroke-width="0.45" stroke-linejoin="round">800</text>
<text x="651.06" y="572.00" class="s" font-size="12" text-anchor="middle" stroke="#111" stroke-width="0.45" stroke-linejoin="round">750</text>
<text x="396.00" y="561.80" class="s" font-size="12" text-anchor="end" stroke="#111" stroke-width="0.45" stroke-linejoin="round">0.00</text>
<text x="396.00" y="529.37" class="s" font-size="12" text-anchor="end" stroke="#111" stroke-width="0.45" stroke-linejoin="round">0.02</text>
<text x="396.00" y="496.94" class="s" font-size="12" text-anchor="end" stroke="#111" stroke-width="0.45" stroke-linejoin="round">0.04</text>
<text x="396.00" y="464.51" class="s" font-size="12" text-anchor="end" stroke="#111" stroke-width="0.45" stroke-linejoin="round">0.06</text>
<text x="396.00" y="432.09" class="s" font-size="12" text-anchor="end" stroke="#111" stroke-width="0.45" stroke-linejoin="round">0.08</text>
<text x="396.00" y="399.66" class="s" font-size="12" text-anchor="end" stroke="#111" stroke-width="0.45" stroke-linejoin="round">0.10</text>
<text x="396.00" y="367.23" class="s" font-size="12" text-anchor="end" stroke="#111" stroke-width="0.45" stroke-linejoin="round">0.12</text>
<text x="396.00" y="334.80" class="s" font-size="12" text-anchor="end" stroke="#111" stroke-width="0.45" stroke-linejoin="round">0.14</text>
<line x1="585.1" y1="339.2" x2="611.6" y2="339.2" stroke="#333" stroke-width="1.1" stroke-dasharray="4.47,3.20"/>
<text x="614.50" y="343.10" class="sb" font-size="11" stroke="#111" stroke-width="0.10" stroke-linejoin="round">Original curve</text>
<line x1="585.1" y1="353.5" x2="611.6" y2="353.5" stroke="#f44" stroke-width="1.0"/>
<text x="612.30" y="357.70" class="sb" font-size="11" stroke="#111" stroke-width="0.10" stroke-linejoin="round">Fitting curve</text>
<text x="591.00" y="373.30" class="s" font-size="12" stroke="#111" stroke-width="0.55" stroke-linejoin="round">R</text>
<text x="599.20" y="368.50" class="s" font-size="8" stroke="#111" stroke-width="0.40" stroke-linejoin="round">2</text>
<text x="603.20" y="373.30" class="s" font-size="12" stroke="#111" stroke-width="0.55" stroke-linejoin="round">=0.99426</text>
<text x="495.60" y="592.40" class="sb" font-size="11" stroke="#111" stroke-width="0.10" stroke-linejoin="round">Wave number(cm</text>
<text x="579.72" y="587.50" class="s" font-size="8" stroke="#111" stroke-width="0.50" stroke-linejoin="round">-1</text>
<text x="587.69" y="592.40" class="sb" font-size="11" stroke="#111" stroke-width="0.10" stroke-linejoin="round">)</text>
<text x="0.00" y="0.00" class="s" font-size="12" text-anchor="middle" stroke="#111" stroke-width="0.45" stroke-linejoin="round" transform="translate(362,439) rotate(-90)">Absorbance</text>
<text x="515.40" y="628.50" class="a" font-size="16" text-anchor="middle" stroke="#111" stroke-width="0.70" stroke-linejoin="round">(d)</text>
</svg>
</body></html>
